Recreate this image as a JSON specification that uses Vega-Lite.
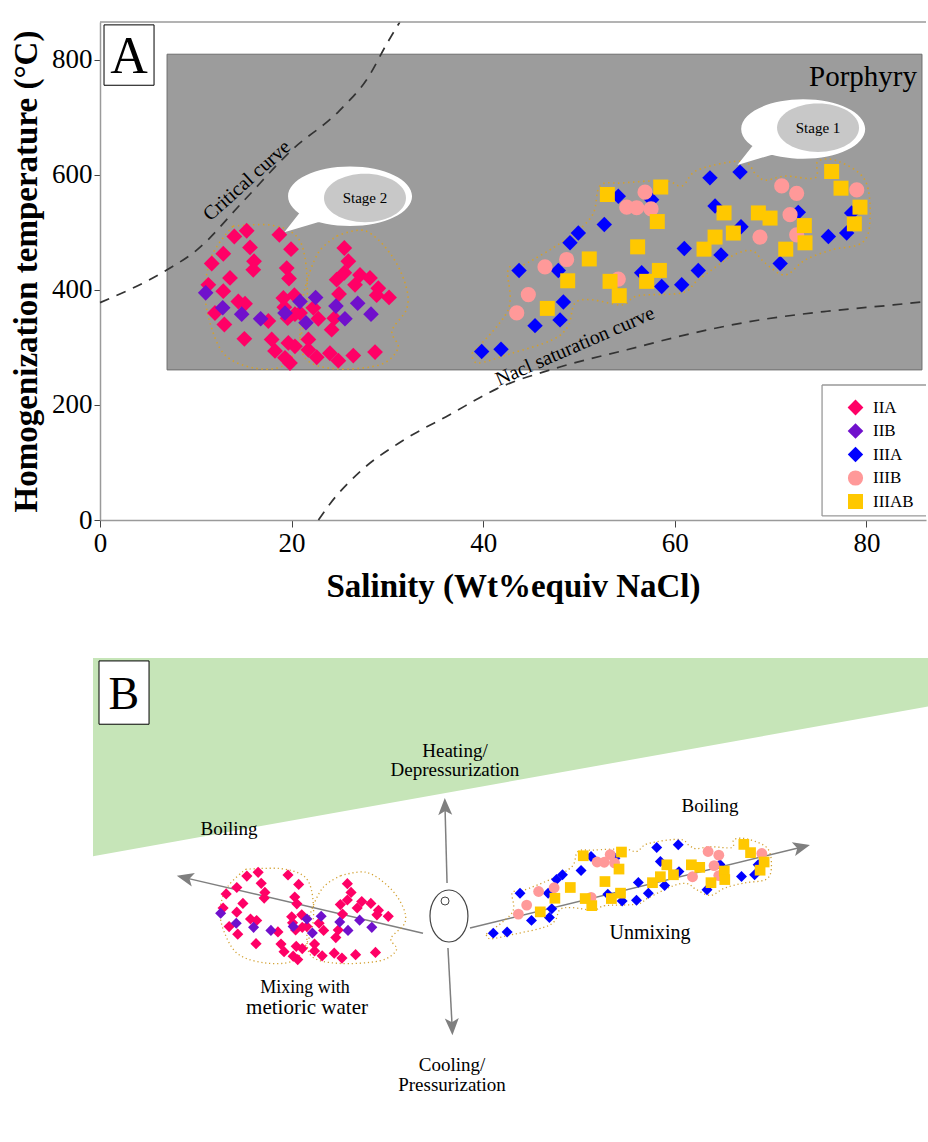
{
"$schema": "https://vega.github.io/schema/vega-lite/v6.json",
"padding": {"left": 10, "top": 18, "right": 0, "bottom": 0},
"background": "white",
"config": {"view": {"stroke": null}, "font": "Liberation Serif"},
"spacing": 138,
"bounds": "flush",
"resolve": {"scale": {"size": "independent"}, "legend": {"color": "independent", "shape": "independent", "size": "independent"}},
"datasets": {
"pts": [
{"g":"IIA","s":15.31,"T":503},{"g":"IIA","s":14.02,"T":493},{"g":"IIA","s":18.72,"T":496},{"g":"IIA","s":15.66,"T":474},{"g":"IIA","s":12.87,"T":463},{"g":"IIA","s":19.94,"T":471},{"g":"IIA","s":11.66,"T":446},{"g":"IIA","s":16.08,"T":450},{"g":"IIA","s":16.0,"T":435},{"g":"IIA","s":19.49,"T":438},{"g":"IIA","s":19.73,"T":420},{"g":"IIA","s":13.57,"T":421},{"g":"IIA","s":11.31,"T":409},{"g":"IIA","s":12.87,"T":398},{"g":"IIA","s":14.44,"T":380},{"g":"IIA","s":15.14,"T":376},{"g":"IIA","s":12.0,"T":360},{"g":"IIA","s":12.98,"T":340},{"g":"IIA","s":15.07,"T":315},{"g":"IIA","s":19.14,"T":386},{"g":"IIA","s":20.29,"T":391},{"g":"IIA","s":19.24,"T":370},{"g":"IIA","s":20.35,"T":358},{"g":"IIA","s":19.59,"T":351},{"g":"IIA","s":17.57,"T":346},{"g":"IIA","s":20.88,"T":360},{"g":"IIA","s":22.27,"T":369},{"g":"IIA","s":22.79,"T":350},{"g":"IIA","s":17.92,"T":314},{"g":"IIA","s":18.27,"T":294},{"g":"IIA","s":19.66,"T":308},{"g":"IIA","s":20.35,"T":302},{"g":"IIA","s":21.75,"T":314},{"g":"IIA","s":21.75,"T":296},{"g":"IIA","s":19.31,"T":282},{"g":"IIA","s":19.83,"T":273},{"g":"IIA","s":22.62,"T":283},{"g":"IIA","s":24.0,"T":290},{"g":"IIA","s":24.88,"T":277},{"g":"IIA","s":24.18,"T":331},{"g":"IIA","s":24.46,"T":351},{"g":"IIA","s":24.95,"T":393},{"g":"IIA","s":24.7,"T":418},{"g":"IIA","s":25.5,"T":430},{"g":"IIA","s":25.92,"T":450},{"g":"IIA","s":25.5,"T":473},{"g":"IIA","s":27.14,"T":426},{"g":"IIA","s":28.18,"T":421},{"g":"IIA","s":26.62,"T":409},{"g":"IIA","s":29.05,"T":403},{"g":"IIA","s":28.88,"T":391},{"g":"IIA","s":30.17,"T":387},{"g":"IIA","s":26.44,"T":286},{"g":"IIA","s":28.71,"T":292},
{"g":"IIB","s":11.03,"T":395},{"g":"IIB","s":12.81,"T":369},{"g":"IIB","s":14.79,"T":358},{"g":"IIB","s":16.77,"T":350},{"g":"IIB","s":19.31,"T":360},{"g":"IIB","s":20.88,"T":380},{"g":"IIB","s":21.5,"T":343},{"g":"IIB","s":22.51,"T":387},{"g":"IIB","s":24.63,"T":372},{"g":"IIB","s":25.57,"T":350},{"g":"IIB","s":26.9,"T":377},{"g":"IIB","s":28.29,"T":358},
{"g":"IIIA","s":39.84,"T":293},{"g":"IIIA","s":41.86,"T":297},{"g":"IIIA","s":43.74,"T":434},{"g":"IIIA","s":47.84,"T":434},{"g":"IIIA","s":45.41,"T":338},{"g":"IIIA","s":48.02,"T":348},{"g":"IIIA","s":48.37,"T":379},{"g":"IIIA","s":49.93,"T":499},{"g":"IIIA","s":49.06,"T":482},{"g":"IIIA","s":52.64,"T":514},{"g":"IIIA","s":54.1,"T":563},{"g":"IIIA","s":57.58,"T":557},{"g":"IIIA","s":56.54,"T":430},{"g":"IIIA","s":58.63,"T":406},{"g":"IIIA","s":60.72,"T":409},{"g":"IIIA","s":62.45,"T":434},{"g":"IIIA","s":60.99,"T":472},{"g":"IIIA","s":64.82,"T":461},{"g":"IIIA","s":66.91,"T":510},{"g":"IIIA","s":64.2,"T":546},{"g":"IIIA","s":63.67,"T":595},{"g":"IIIA","s":66.81,"T":605},{"g":"IIIA","s":71.0,"T":446},{"g":"IIIA","s":72.89,"T":535},{"g":"IIIA","s":76.03,"T":493},{"g":"IIIA","s":77.94,"T":499},{"g":"IIIA","s":78.46,"T":534},
{"g":"IIIB","s":43.5,"T":360},{"g":"IIIB","s":44.71,"T":392},{"g":"IIIB","s":46.45,"T":440},{"g":"IIIB","s":48.71,"T":453},{"g":"IIIB","s":54.1,"T":419},{"g":"IIIB","s":54.98,"T":544},{"g":"IIIB","s":56.02,"T":543},{"g":"IIIB","s":56.89,"T":570},{"g":"IIIB","s":57.52,"T":541},{"g":"IIIB","s":68.89,"T":492},{"g":"IIIB","s":71.16,"T":581},{"g":"IIIB","s":72.72,"T":568},{"g":"IIIB","s":72.03,"T":531},{"g":"IIIB","s":72.72,"T":496},{"g":"IIIB","s":78.99,"T":574},
{"g":"IIIAB","s":46.69,"T":368},{"g":"IIIAB","s":48.82,"T":416},{"g":"IIIAB","s":51.07,"T":454},{"g":"IIIAB","s":52.96,"T":566},{"g":"IIIAB","s":58.53,"T":579},{"g":"IIIAB","s":58.17,"T":519},{"g":"IIIAB","s":56.12,"T":475},{"g":"IIIAB","s":53.24,"T":415},{"g":"IIIAB","s":54.2,"T":390},{"g":"IIIAB","s":57.06,"T":415},{"g":"IIIAB","s":58.39,"T":434},{"g":"IIIAB","s":63.05,"T":471},{"g":"IIIAB","s":64.2,"T":492},{"g":"IIIAB","s":65.14,"T":534},{"g":"IIIAB","s":66.11,"T":499},{"g":"IIIAB","s":68.72,"T":534},{"g":"IIIAB","s":69.94,"T":525},{"g":"IIIAB","s":71.58,"T":471},{"g":"IIIAB","s":73.52,"T":512},{"g":"IIIAB","s":73.59,"T":482},{"g":"IIIAB","s":76.37,"T":606},{"g":"IIIAB","s":77.35,"T":577},{"g":"IIIAB","s":79.33,"T":544},{"g":"IIIAB","s":78.74,"T":515}
],
"outl": [
{"loop":"L1","i":0,"s":13.88,"T":511},{"loop":"L1","i":1,"s":17.75,"T":513},{"loop":"L1","i":2,"s":20.35,"T":496},{"loop":"L1","i":3,"s":21.4,"T":456},{"loop":"L1","i":4,"s":21.61,"T":377},{"loop":"L1","i":5,"s":20.88,"T":317},{"loop":"L1","i":6,"s":19.31,"T":270},{"loop":"L1","i":7,"s":16.18,"T":264},{"loop":"L1","i":8,"s":13.05,"T":287},{"loop":"L1","i":9,"s":11.48,"T":343},{"loop":"L1","i":10,"s":10.96,"T":403},{"loop":"L1","i":11,"s":11.8,"T":464},{"loop":"L1","i":12,"s":13.88,"T":511},
{"loop":"L2","i":0,"s":24.74,"T":494},{"loop":"L2","i":1,"s":27.66,"T":503},{"loop":"L2","i":2,"s":30.27,"T":464},{"loop":"L2","i":3,"s":31.84,"T":412},{"loop":"L2","i":4,"s":32.05,"T":369},{"loop":"L2","i":5,"s":30.48,"T":329},{"loop":"L2","i":6,"s":31.11,"T":299},{"loop":"L2","i":7,"s":29.23,"T":270},{"loop":"L2","i":8,"s":24.53,"T":263},{"loop":"L2","i":9,"s":21.4,"T":282},{"loop":"L2","i":10,"s":20.88,"T":343},{"loop":"L2","i":11,"s":21.4,"T":403},{"loop":"L2","i":12,"s":22.76,"T":464},{"loop":"L2","i":13,"s":24.74,"T":494},
{"loop":"R","i":0,"s":38.83,"T":290},{"loop":"R","i":1,"s":42.59,"T":365},{"loop":"R","i":2,"s":42.59,"T":435},{"loop":"R","i":3,"s":44.05,"T":442},{"loop":"R","i":4,"s":48.54,"T":487},{"loop":"R","i":5,"s":51.36,"T":529},{"loop":"R","i":6,"s":52.19,"T":581},{"loop":"R","i":7,"s":54.49,"T":586},{"loop":"R","i":8,"s":58.98,"T":590},{"loop":"R","i":9,"s":60.75,"T":581},{"loop":"R","i":10,"s":62.42,"T":609},{"loop":"R","i":11,"s":67.01,"T":624},{"loop":"R","i":12,"s":68.37,"T":603},{"loop":"R","i":13,"s":69.42,"T":591},{"loop":"R","i":14,"s":71.5,"T":598},{"loop":"R","i":15,"s":74.63,"T":595},{"loop":"R","i":16,"s":74.95,"T":624},{"loop":"R","i":17,"s":77.04,"T":624},{"loop":"R","i":18,"s":79.85,"T":591},{"loop":"R","i":19,"s":80.38,"T":522},{"loop":"R","i":20,"s":79.54,"T":482},{"loop":"R","i":21,"s":76.41,"T":470},{"loop":"R","i":22,"s":73.59,"T":452},{"loop":"R","i":23,"s":71.5,"T":426},{"loop":"R","i":24,"s":69.42,"T":447},{"loop":"R","i":25,"s":68.06,"T":468},{"loop":"R","i":26,"s":65.97,"T":459},{"loop":"R","i":27,"s":62.42,"T":417},{"loop":"R","i":28,"s":60.75,"T":395},{"loop":"R","i":29,"s":56.16,"T":390},{"loop":"R","i":30,"s":54.49,"T":374},{"loop":"R","i":31,"s":51.36,"T":383},{"loop":"R","i":32,"s":49.58,"T":377},{"loop":"R","i":33,"s":48.85,"T":337},{"loop":"R","i":34,"s":47.18,"T":313},{"loop":"R","i":35,"s":43.0,"T":290},{"loop":"R","i":36,"s":39.46,"T":273},{"loop":"R","i":37,"s":38.83,"T":290}
]
},
"vconcat": [
{
"width": 826, "height": 498,
"encoding": {
  "x": {"field": "s", "type": "quantitative", "scale": {"domain": [0, 86.22], "nice": false, "zero": false},
   "axis": {"title": "Salinity (Wt%equiv NaCl)", "values": [0, 20, 40, 60, 80], "grid": false, "domainColor": "#9a9a9a", "domainWidth": 1.5, "tickColor": "#444", "tickSize": 7, "tickWidth": 1, "labelFont": "Liberation Serif", "labelFontSize": 27, "labelColor": "#000", "labelPadding": 3, "labelFlush": false, "titleFont": "Liberation Serif", "titleFontSize": 33, "titleFontWeight": "bold", "titleColor": "#000", "titlePadding": 14}},
  "y": {"field": "T", "type": "quantitative", "scale": {"domain": [0, 866], "nice": false, "zero": false},
   "axis": {"title": "Homogenization temperature (°C)", "values": [0, 200, 400, 600, 800], "grid": false, "domainColor": "#9a9a9a", "domainWidth": 1.5, "tickColor": "#444", "tickSize": 6, "tickWidth": 1, "labelFont": "Liberation Serif", "labelFontSize": 27, "labelColor": "#000", "labelPadding": 2, "labelFlush": false, "titleFont": "Liberation Serif", "titleFontSize": 33, "titleFontWeight": "bold", "titleColor": "#000", "titlePadding": 8}}
},
"layer": [
{"data": {"values": [{"s": 7.0, "s2": 85.8, "T": 261, "T2": 810}]},
 "mark": {"type": "rect", "fill": "#9c9c9c", "stroke": "#6e6e6e", "strokeWidth": 1},
 "encoding": {"x2": {"field": "s2"}, "y2": {"field": "T2"}}},
{"data": {"values": [{"s":0,"T":378},{"s":7,"T":435},{"s":10,"T":468},{"s":15,"T":555},{"s":20,"T":643},{"s":25,"T":712},{"s":28,"T":770},{"s":30,"T":830},{"s":31.3,"T":866}]},
 "mark": {"type": "line", "color": "#333", "strokeWidth": 1.7, "strokeDash": [10, 8], "interpolate": "monotone"}},
{"data": {"values": [{"s":22.8,"T":0},{"s":24,"T":28},{"s":27.2,"T":85},{"s":31.5,"T":137},{"s":36.5,"T":183},{"s":41.4,"T":228},{"s":48,"T":266},{"s":55,"T":296},{"s":61.9,"T":325},{"s":68.9,"T":348},{"s":75.9,"T":363},{"s":82.8,"T":374},{"s":86.22,"T":380}]},
 "mark": {"type": "line", "color": "#333", "strokeWidth": 1.7, "strokeDash": [10, 8], "interpolate": "monotone"}},
{"data": {"values": [{"s": 15.34, "T": 590, "t": "Critical curve"}]},
 "mark": {"type": "text", "font": "Liberation Serif", "fontSize": 20, "angle": -42, "color": "#000", "baseline": "middle", "align": "center"},
 "encoding": {"text": {"field": "t"}}},
{"data": {"values": [{"s": 49.58, "T": 302, "t": "Nacl saturation curve"}]},
 "mark": {"type": "text", "font": "Liberation Serif", "fontSize": 20, "angle": -23.5, "color": "#000", "baseline": "middle", "align": "center"},
 "encoding": {"text": {"field": "t"}}},
{"data": {"name": "outl"},
 "mark": {"type": "line", "color": "#d2a030", "strokeWidth": 1.6, "strokeDash": [1.5, 3.5], "interpolate": "cardinal"},
 "encoding": {"detail": {"field": "loop"}, "order": {"field": "i", "type": "quantitative"}}},
{"data": {"values": [{"s": 26.1, "T": 563}, {"s": 73.4, "T": 680}]},
 "mark": {"type": "point", "filled": true, "fill": "#ffffff", "opacity": 1, "strokeWidth": 0, "size": 15376, "shape": "M1,0C1,0.265,0.552,0.48,0,0.48C-0.552,0.48,-1,0.265,-1,0C-1,-0.265,-0.552,-0.48,0,-0.48C0.552,-0.48,1,-0.265,1,0Z M-0.8,0.25L-0.45,0.4L-1.06,0.58Z"}},
{"data": {"values": [{"s": 27.66, "T": 560}, {"s": 74.95, "T": 682}]},
 "mark": {"type": "point", "filled": true, "fill": "#c8c8c8", "opacity": 1, "strokeWidth": 0, "size": 6724, "shape": "M1,0C1,0.326,0.552,0.59,0,0.59C-0.552,0.59,-1,0.326,-1,0C-1,-0.326,-0.552,-0.59,0,-0.59C0.552,-0.59,1,-0.326,1,0Z"}},
{"data": {"values": [{"s": 27.66, "T": 560, "t": "Stage 2"}, {"s": 74.95, "T": 682, "t": "Stage 1"}]},
 "mark": {"type": "text", "font": "Liberation Serif", "fontSize": 15, "color": "#000", "baseline": "middle", "align": "center"},
 "encoding": {"text": {"field": "t"}}},
{"data": {"name": "pts"},
 "mark": {"type": "point", "filled": true, "opacity": 1, "strokeWidth": 0},
 "encoding": {
  "color": {"field": "g", "type": "nominal", "scale": {"domain": ["IIA", "IIB", "IIIA", "IIIB", "IIIAB"], "range": ["#ff0066", "#7010cc", "#0000ff", "#ff9999", "#ffc800"]},
   "legend": {"title": null, "orient": "none", "legendX": 733, "legendY": 363, "padding": 14, "strokeColor": null, "fillColor": null, "labelFont": "Liberation Serif", "labelFontSize": 17, "labelColor": "#000", "symbolSize": 120, "labelOffset": 9, "rowPadding": 5.5, "symbolStrokeWidth": 0}},
  "shape": {"field": "g", "type": "nominal", "scale": {"domain": ["IIA", "IIB", "IIIA", "IIIB", "IIIAB"], "range": ["diamond", "diamond", "diamond", "circle", "square"]},
   "legend": {"title": null, "orient": "none", "legendX": 733, "legendY": 363, "padding": 14, "strokeColor": null, "fillColor": null, "labelFont": "Liberation Serif", "labelFontSize": 17, "labelColor": "#000", "symbolSize": 120, "labelOffset": 9, "rowPadding": 5.5, "symbolStrokeWidth": 0}},
  "size": {"field": "g", "type": "nominal", "scale": {"domain": ["IIA", "IIB", "IIIA", "IIIB", "IIIAB"], "range": [250, 225, 400, 289, 169]}, "legend": null}}},
{"data": {"values": [{"s": 0.42, "s2": 5.64, "T": 756, "T2": 861}]},
 "mark": {"type": "rect", "fill": "#ffffff", "stroke": "#000", "strokeWidth": 1},
 "encoding": {"x2": {"field": "s2"}, "y2": {"field": "T2"}}},
{"data": {"values": [{"s": 3.03, "T": 808, "t": "A"}]},
 "mark": {"type": "text", "font": "Liberation Serif", "fontSize": 52, "color": "#000", "baseline": "middle", "align": "center", "dy": 2},
 "encoding": {"text": {"field": "t"}}},
{"data": {"values": [{"s": 85.28, "T": 755, "t": "Porphyry"}]},
 "mark": {"type": "text", "font": "Liberation Serif", "fontSize": 29, "color": "#000", "baseline": "alphabetic", "align": "right"},
 "encoding": {"text": {"field": "t"}}},
{"data": {"values": [{"s": 75.37, "s2": 86.22, "T": 7, "T2": 234.8}]},
 "mark": {"type": "rect", "fill": "#ffffff", "strokeWidth": 0},
 "encoding": {"x2": {"field": "s2"}, "y2": {"field": "T2"}}},
{"data": {"values": [{"s": 75.37, "s2": 75.37, "T": 7, "T2": 234.8}, {"s": 75.37, "s2": 86.22, "T": 234.8, "T2": 234.8}, {"s": 75.37, "s2": 86.22, "T": 7, "T2": 7}]},
 "mark": {"type": "rule", "color": "#999", "strokeWidth": 1.3},
 "encoding": {"x2": {"field": "s2"}, "y2": {"field": "T2"}}},
{"data": {"values": [{"s": 0, "s2": 86.22, "T": 866}]},
 "mark": {"type": "rule", "color": "#9a9a9a", "strokeWidth": 1.5},
 "encoding": {"x2": {"field": "s2"}}}
]
},
{
"width": 826, "height": 487,
"resolve": {"scale": {"x": "independent", "y": "independent"}},
"layer": [
{"layer": [
 {"data": {"values": [{"u": 0, "v": 59.3}, {"u": 100.2, "v": 90.1}]},
  "mark": {"type": "area", "fill": "#c6e5b8", "opacity": 1},
  "encoding": {"x": {"field": "u", "type": "quantitative", "scale": {"domain": [0.838, 99.76], "nice": false, "zero": false}, "axis": null},
   "y": {"field": "v", "type": "quantitative", "scale": {"domain": [0, 100], "nice": false, "zero": false}, "axis": null}, "y2": {"datum": 100}}},
 {"mark": {"type": "rule", "color": "#9a9a9a", "strokeWidth": 1.5},
  "encoding": {"x": {"datum": 0, "type": "quantitative", "scale": {"domain": [0.838, 99.76], "nice": false, "zero": false}, "axis": null},
   "y": {"datum": 0.4, "type": "quantitative", "scale": {"domain": [0, 100], "nice": false, "zero": false}, "axis": null}, "y2": {"datum": 100}}},
 {"mark": {"type": "rule", "color": "#9a9a9a", "strokeWidth": 1.5},
  "encoding": {"x": {"datum": 0, "type": "quantitative", "scale": {"domain": [0.838, 99.76], "nice": false, "zero": false}, "axis": null}, "x2": {"datum": 99.76},
   "y": {"datum": 100, "type": "quantitative", "scale": {"domain": [0, 100], "nice": false, "zero": false}, "axis": null}}},
 {"data": {"values": [{"u": 0.72, "u2": 6.71, "v": 86.4, "v2": 99.4}]},
  "mark": {"type": "rect", "fill": "#ffffff", "stroke": "#000", "strokeWidth": 1},
  "encoding": {"x": {"field": "u", "type": "quantitative", "scale": {"domain": [0.838, 99.76], "nice": false, "zero": false}, "axis": null}, "x2": {"field": "u2"},
   "y": {"field": "v", "type": "quantitative", "scale": {"domain": [0, 100], "nice": false, "zero": false}, "axis": null}, "y2": {"field": "v2"}}},
 {"data": {"values": [{"u": 3.7, "v": 92.9, "t": "B"}]},
  "mark": {"type": "text", "font": "Liberation Serif", "fontSize": 46, "color": "#000", "baseline": "middle", "align": "center", "dy": 2},
  "encoding": {"x": {"field": "u", "type": "quantitative", "scale": {"domain": [0.838, 99.76], "nice": false, "zero": false}, "axis": null},
   "y": {"field": "v", "type": "quantitative", "scale": {"domain": [0, 100], "nice": false, "zero": false}, "axis": null}, "text": {"field": "t"}}},
 {"data": {"values": [{"a": "up", "i": 0, "u": 42.4, "v": 53.8}, {"a": "up", "i": 1, "u": 42.16, "v": 69.2}, {"a": "down", "i": 0, "u": 42.51, "v": 40.45}, {"a": "down", "i": 1, "u": 43.0, "v": 24.6}, {"a": "left", "i": 0, "u": 39.52, "v": 43.5}, {"a": "left", "i": 1, "u": 11.2, "v": 54.8}, {"a": "right", "i": 0, "u": 45.15, "v": 44.56}, {"a": "right", "i": 1, "u": 84.7, "v": 61.1}]},
  "mark": {"type": "line", "color": "#7f7f7f", "strokeWidth": 1.5},
  "encoding": {"x": {"field": "u", "type": "quantitative", "scale": {"domain": [0.838, 99.76], "nice": false, "zero": false}, "axis": null},
   "y": {"field": "v", "type": "quantitative", "scale": {"domain": [0, 100], "nice": false, "zero": false}, "axis": null},
   "detail": {"field": "a"}, "order": {"field": "i", "type": "quantitative"}}},
 {"data": {"values": [{"u": 42.16, "v": 69.2}]},
  "mark": {"type": "point", "filled": true, "fill": "#7f7f7f", "opacity": 1, "strokeWidth": 0, "size": 400, "angle": -1.5, "shape": "M0,-1L0.7,0.7L0,0.3L-0.7,0.7Z"},
  "encoding": {"x": {"field": "u", "type": "quantitative", "scale": {"domain": [0.838, 99.76], "nice": false, "zero": false}, "axis": null},
   "y": {"field": "v", "type": "quantitative", "scale": {"domain": [0, 100], "nice": false, "zero": false}, "axis": null}}},
 {"data": {"values": [{"u": 43.0, "v": 24.6}]},
  "mark": {"type": "point", "filled": true, "fill": "#7f7f7f", "opacity": 1, "strokeWidth": 0, "size": 400, "angle": 177.8, "shape": "M0,-1L0.7,0.7L0,0.3L-0.7,0.7Z"},
  "encoding": {"x": {"field": "u", "type": "quantitative", "scale": {"domain": [0.838, 99.76], "nice": false, "zero": false}, "axis": null},
   "y": {"field": "v", "type": "quantitative", "scale": {"domain": [0, 100], "nice": false, "zero": false}, "axis": null}}},
 {"data": {"values": [{"u": 11.2, "v": 54.8}]},
  "mark": {"type": "point", "filled": true, "fill": "#7f7f7f", "opacity": 1, "strokeWidth": 0, "size": 400, "angle": -77, "shape": "M0,-1L0.7,0.7L0,0.3L-0.7,0.7Z"},
  "encoding": {"x": {"field": "u", "type": "quantitative", "scale": {"domain": [0.838, 99.76], "nice": false, "zero": false}, "axis": null},
   "y": {"field": "v", "type": "quantitative", "scale": {"domain": [0, 100], "nice": false, "zero": false}, "axis": null}}},
 {"data": {"values": [{"u": 84.7, "v": 61.1}]},
  "mark": {"type": "point", "filled": true, "fill": "#7f7f7f", "opacity": 1, "strokeWidth": 0, "size": 400, "angle": 76.3, "shape": "M0,-1L0.7,0.7L0,0.3L-0.7,0.7Z"},
  "encoding": {"x": {"field": "u", "type": "quantitative", "scale": {"domain": [0.838, 99.76], "nice": false, "zero": false}, "axis": null},
   "y": {"field": "v", "type": "quantitative", "scale": {"domain": [0, 100], "nice": false, "zero": false}, "axis": null}}},
 {"data": {"values": [{"u": 42.63, "v": 47.02}]},
  "mark": {"type": "point", "filled": true, "fill": "#ffffff", "stroke": "#444", "strokeWidth": 1.2, "opacity": 1, "size": 2704, "shape": "M0.73,0C0.73,0.552,0.403,1,0,1C-0.403,1,-0.73,0.552,-0.73,0C-0.73,-0.552,-0.403,-1,0,-1C0.403,-1,0.73,-0.552,0.73,0Z"},
  "encoding": {"x": {"field": "u", "type": "quantitative", "scale": {"domain": [0.838, 99.76], "nice": false, "zero": false}, "axis": null},
   "y": {"field": "v", "type": "quantitative", "scale": {"domain": [0, 100], "nice": false, "zero": false}, "axis": null}}},
 {"data": {"values": [{"u": 42.16, "v": 50.1}]},
  "mark": {"type": "point", "filled": false, "stroke": "#444", "strokeWidth": 1, "opacity": 1, "size": 64, "shape": "circle"},
  "encoding": {"x": {"field": "u", "type": "quantitative", "scale": {"domain": [0.838, 99.76], "nice": false, "zero": false}, "axis": null},
   "y": {"field": "v", "type": "quantitative", "scale": {"domain": [0, 100], "nice": false, "zero": false}, "axis": null}}},
 {"data": {"values": [{"u": 43.35, "v": 80.9, "t": "Heating/"}, {"u": 43.35, "v": 77.0, "t": "Depressurization"}, {"u": 16.29, "v": 64.9, "t": "Boiling"}, {"u": 73.89, "v": 69.6, "t": "Boiling"}, {"u": 43.0, "v": 16.4, "t": "Cooling/"}, {"u": 43.0, "v": 12.3, "t": "Pressurization"}]},
  "mark": {"type": "text", "font": "Liberation Serif", "fontSize": 19, "color": "#000", "baseline": "middle", "align": "center"},
  "encoding": {"x": {"field": "u", "type": "quantitative", "scale": {"domain": [0.838, 99.76], "nice": false, "zero": false}, "axis": null},
   "y": {"field": "v", "type": "quantitative", "scale": {"domain": [0, 100], "nice": false, "zero": false}, "axis": null}, "text": {"field": "t"}}},
 {"data": {"values": [{"u": 25.39, "v": 32.2, "t": "Mixing with"}]},
  "mark": {"type": "text", "font": "Liberation Serif", "fontSize": 18, "color": "#000", "baseline": "middle", "align": "center"},
  "encoding": {"x": {"field": "u", "type": "quantitative", "scale": {"domain": [0.838, 99.76], "nice": false, "zero": false}, "axis": null},
   "y": {"field": "v", "type": "quantitative", "scale": {"domain": [0, 100], "nice": false, "zero": false}, "axis": null}, "text": {"field": "t"}}},
 {"data": {"values": [{"u": 25.63, "v": 28.1, "t": "metioric water"}]},
  "mark": {"type": "text", "font": "Liberation Serif", "fontSize": 21, "color": "#000", "baseline": "middle", "align": "center"},
  "encoding": {"x": {"field": "u", "type": "quantitative", "scale": {"domain": [0.838, 99.76], "nice": false, "zero": false}, "axis": null},
   "y": {"field": "v", "type": "quantitative", "scale": {"domain": [0, 100], "nice": false, "zero": false}, "axis": null}, "text": {"field": "t"}}},
 {"data": {"values": [{"u": 66.71, "v": 43.5, "t": "Unmixing"}]},
  "mark": {"type": "text", "font": "Liberation Serif", "fontSize": 20, "color": "#000", "baseline": "middle", "align": "center"},
  "encoding": {"x": {"field": "u", "type": "quantitative", "scale": {"domain": [0.838, 99.76], "nice": false, "zero": false}, "axis": null},
   "y": {"field": "v", "type": "quantitative", "scale": {"domain": [0, 100], "nice": false, "zero": false}, "axis": null}, "text": {"field": "t"}}}
]},
{"layer": [
 {"data": {"name": "outl"}, "transform": [{"filter": "datum.loop != 'R'"}],
  "mark": {"type": "line", "color": "#d2a030", "strokeWidth": 1.3, "strokeDash": [1.2, 2.8], "interpolate": "cardinal"},
  "encoding": {"x": {"field": "s", "type": "quantitative", "scale": {"domain": [-2.75, 91.58], "nice": false, "zero": false}, "axis": null},
   "y": {"field": "T", "type": "quantitative", "scale": {"domain": [-215.5, 1067.7], "nice": false, "zero": false}, "axis": null},
   "detail": {"field": "loop"}, "order": {"field": "i", "type": "quantitative"}}},
 {"data": {"name": "pts"}, "transform": [{"filter": "datum.g == 'IIA' || datum.g == 'IIB'"}],
  "mark": {"type": "point", "filled": true, "opacity": 1, "strokeWidth": 0},
  "encoding": {"x": {"field": "s", "type": "quantitative", "scale": {"domain": [-2.75, 91.58], "nice": false, "zero": false}, "axis": null},
   "y": {"field": "T", "type": "quantitative", "scale": {"domain": [-215.5, 1067.7], "nice": false, "zero": false}, "axis": null},
   "color": {"field": "g", "type": "nominal", "scale": {"domain": ["IIA", "IIB", "IIIA", "IIIB", "IIIAB"], "range": ["#ff0066", "#7010cc", "#0000ff", "#ff9999", "#ffc800"]}, "legend": null},
   "shape": {"field": "g", "type": "nominal", "scale": {"domain": ["IIA", "IIB", "IIIA", "IIIB", "IIIAB"], "range": ["diamond", "diamond", "diamond", "circle", "square"]}, "legend": null},
   "size": {"field": "g", "type": "nominal", "scale": {"domain": ["IIA", "IIB", "IIIA", "IIIB", "IIIAB"], "range": [125, 115, 170, 125, 85]}, "legend": null}}}
]},
{"layer": [
 {"data": {"name": "outl"}, "transform": [{"filter": "datum.loop == 'R'"}],
  "mark": {"type": "line", "color": "#d2a030", "strokeWidth": 1.3, "strokeDash": [1.2, 2.8], "interpolate": "cardinal"},
  "encoding": {"x": {"field": "s", "type": "quantitative", "scale": {"domain": [-17.5, 102.93], "nice": false, "zero": false}, "axis": null},
   "y": {"field": "T", "type": "quantitative", "scale": {"domain": [-454.3, 1263.5], "nice": false, "zero": false}, "axis": null},
   "detail": {"field": "loop"}, "order": {"field": "i", "type": "quantitative"}}},
 {"data": {"name": "pts"}, "transform": [{"filter": "datum.g != 'IIA' && datum.g != 'IIB'"}],
  "mark": {"type": "point", "filled": true, "opacity": 1, "strokeWidth": 0},
  "encoding": {"x": {"field": "s", "type": "quantitative", "scale": {"domain": [-17.5, 102.93], "nice": false, "zero": false}, "axis": null},
   "y": {"field": "T", "type": "quantitative", "scale": {"domain": [-454.3, 1263.5], "nice": false, "zero": false}, "axis": null},
   "color": {"field": "g", "type": "nominal", "scale": {"domain": ["IIA", "IIB", "IIIA", "IIIB", "IIIAB"], "range": ["#ff0066", "#7010cc", "#0000ff", "#ff9999", "#ffc800"]}, "legend": null},
   "shape": {"field": "g", "type": "nominal", "scale": {"domain": ["IIA", "IIB", "IIIA", "IIIB", "IIIAB"], "range": ["diamond", "diamond", "diamond", "circle", "square"]}, "legend": null},
   "size": {"field": "g", "type": "nominal", "scale": {"domain": ["IIA", "IIB", "IIIA", "IIIB", "IIIAB"], "range": [125, 115, 170, 125, 85]}, "legend": null}}}
]}
]
}
]
}
